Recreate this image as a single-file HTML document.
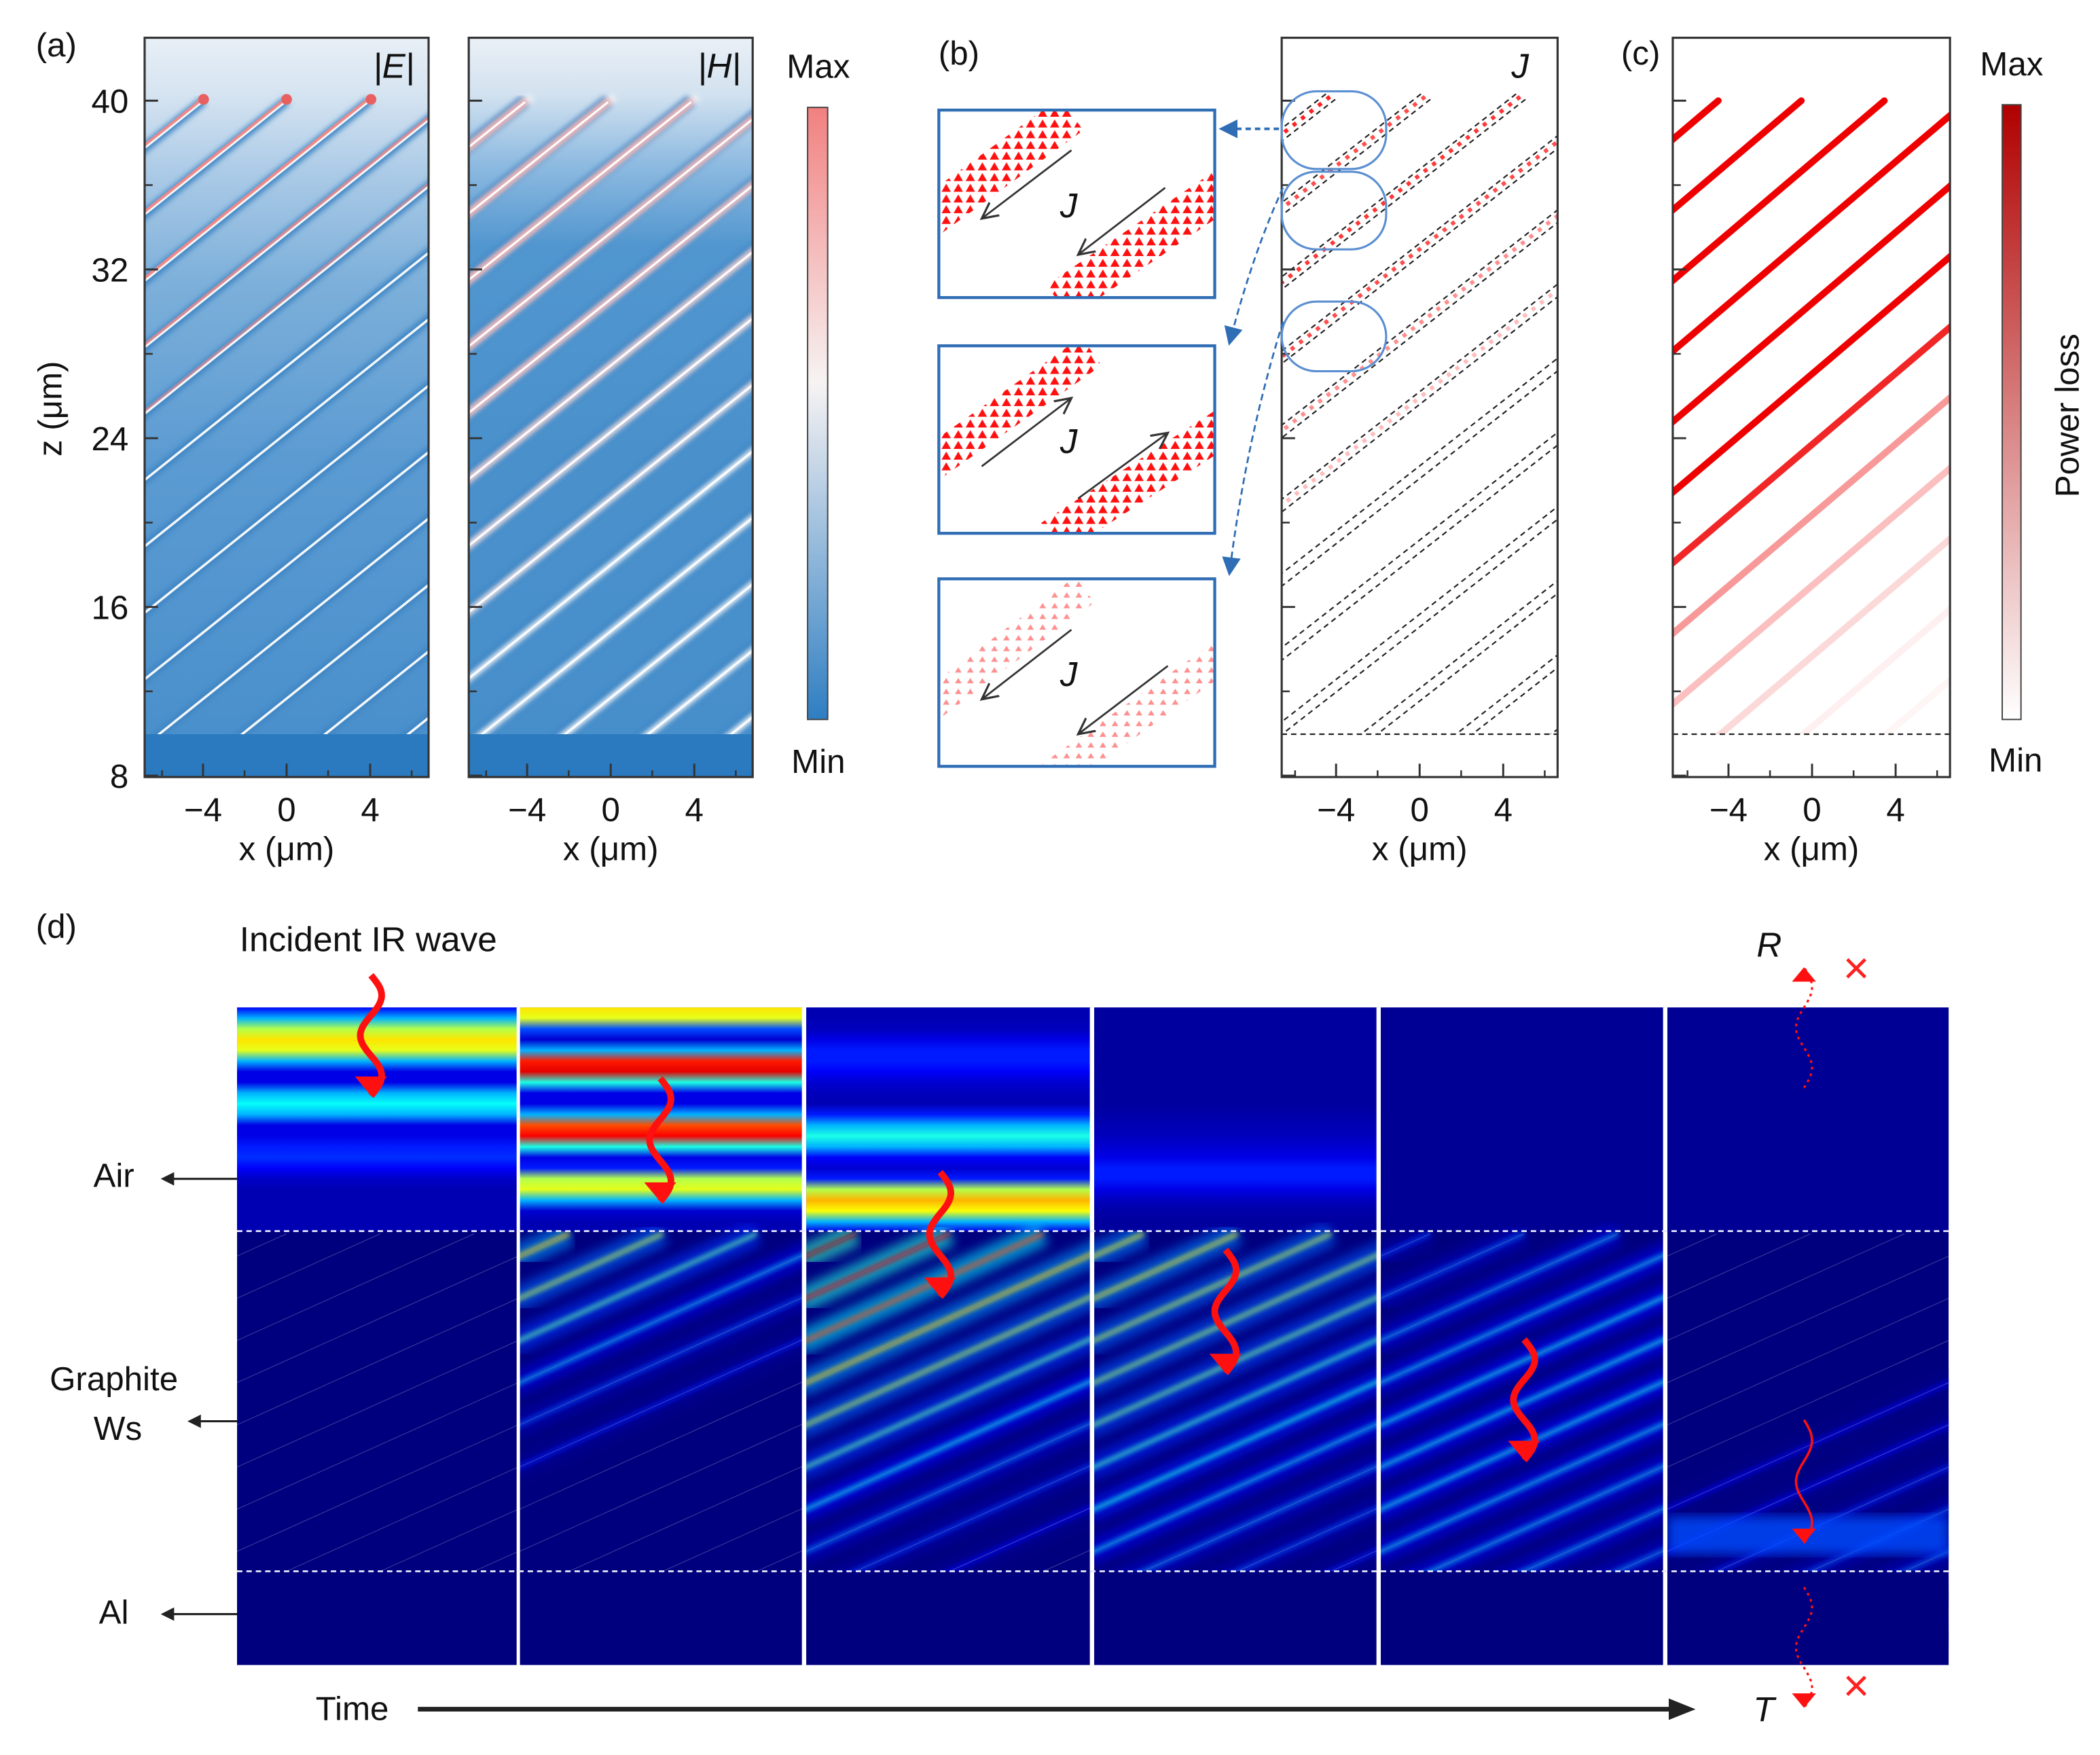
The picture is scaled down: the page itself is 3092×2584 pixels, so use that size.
<!DOCTYPE html>
<html><head><meta charset="utf-8"><style>
html,body{margin:0;padding:0;background:#fff;width:3092px;height:2584px;overflow:hidden;position:relative;}
svg{display:block;position:absolute;left:0;top:0;}
script{display:none;}
text{font-family:"Liberation Sans",sans-serif;}
</style></head><body>
<svg id="fig" xmlns="http://www.w3.org/2000/svg" width="3092" height="2584" viewBox="0 0 1568 1310">
<defs>
<linearGradient id="gE" x1="0" y1="0" x2="0" y2="1">
<stop offset="0" stop-color="#e8eff6"/><stop offset="0.08" stop-color="#d6e4f1"/><stop offset="0.2" stop-color="#a9c9e6"/><stop offset="0.35" stop-color="#7db0da"/><stop offset="0.6" stop-color="#5c9bd2"/><stop offset="1" stop-color="#4a90cc"/></linearGradient>
<linearGradient id="gH" x1="0" y1="0" x2="0" y2="1">
<stop offset="0" stop-color="#eaf0f6"/><stop offset="0.08" stop-color="#d3e2f0"/><stop offset="0.18" stop-color="#8fbbe1"/><stop offset="0.3" stop-color="#5196cf"/><stop offset="0.6" stop-color="#4a91cc"/><stop offset="1" stop-color="#478fcb"/></linearGradient>
<linearGradient id="cbA" x1="0" y1="0" x2="0" y2="1"><stop offset="0" stop-color="#f28080"/><stop offset="0.45" stop-color="#f7f3f3"/><stop offset="1" stop-color="#2e7ec2"/></linearGradient>
<linearGradient id="cbC" x1="0" y1="0" x2="0" y2="1"><stop offset="0" stop-color="#b00000"/><stop offset="1" stop-color="#ffffff"/></linearGradient>
<clipPath id="clipE"><rect x="108" y="28" width="212" height="520"/></clipPath>
<clipPath id="clipH"><rect x="350" y="28" width="212" height="520"/></clipPath>
<clipPath id="clipB"><rect x="957" y="28" width="206" height="520"/></clipPath>
<clipPath id="clipC"><rect x="1249" y="28" width="207" height="520"/></clipPath>
<filter id="blur2"><feGaussianBlur stdDeviation="2"/></filter>
<filter id="blur4"><feGaussianBlur stdDeviation="4"/></filter>
<pattern id="tri" width="9" height="8" patternUnits="userSpaceOnUse"><polygon points="1,7 4.5,1 8,7" fill="#ff1010"/></pattern>
<pattern id="triL" width="9" height="8" patternUnits="userSpaceOnUse"><polygon points="2,6 4.5,2 7,6" fill="#ff9090"/></pattern>
<marker id="ahBlack" markerWidth="10" markerHeight="10" refX="8" refY="5" orient="auto" markerUnits="userSpaceOnUse"><path d="M0,0 L10,5 L0,10 z" fill="#222"/></marker>
<marker id="ahOpen" markerWidth="14" markerHeight="14" refX="12" refY="7" orient="auto" markerUnits="userSpaceOnUse"><path d="M0,1 L12,7 L0,13" fill="none" stroke="#333" stroke-width="1.6"/></marker>
<marker id="ahBlue" markerWidth="14" markerHeight="14" refX="12" refY="7" orient="auto" markerUnits="userSpaceOnUse"><path d="M0,0 L14,7 L0,14 z" fill="#2f6db5"/></marker>
</defs>
<g id="root"></g>
</svg>
<script>
// ---------- data ----------
var zTicks = [40, 32, 24, 16, 8];
var xTicks = [-4, 0, 4];
var lossIntensity = [1, 1, 1, 1, 1, 1, 0.85, 0.4, 0.25, 0.15, 0.06, 0.04, 0.02, 0.01, 0, 0];
var airY = [752,760,768,776,784,792,800,808,816,824,832,840,848,856,864,872,880,888,896,904,912,919];
var air1 = [0.12,0.3,0.55,0.65,0.6,0.3,0.1,0.1,0.3,0.38,0.3,0.1,0.1,0.15,0.17,0.12,0.07,0.05,0.05,0.05,0.05,0.05];
var air2 = [0.65,0.6,0.2,0.08,0.3,0.85,0.9,0.4,0.1,0.1,0.3,0.8,0.88,0.4,0.1,0.15,0.55,0.6,0.3,0.08,0.05,0.05];
var air3 = [0.05,0.05,0.06,0.1,0.15,0.15,0.12,0.08,0.06,0.05,0.15,0.3,0.4,0.3,0.12,0.08,0.15,0.55,0.7,0.62,0.3,0.1];
var air4 = [0.03,0.03,0.03,0.03,0.03,0.03,0.03,0.03,0.03,0.03,0.04,0.05,0.06,0.08,0.1,0.15,0.15,0.1,0.06,0.04,0.03,0.03];
var air5 = [0.02,0.02,0.02,0.02,0.02,0.02,0.02,0.02,0.02,0.02,0.02,0.02,0.02,0.02,0.02,0.02,0.02,0.02,0.02,0.02,0.02,0.02];
var air6 = [0.02,0.02,0.02,0.02,0.02,0.02,0.02,0.02,0.02,0.02,0.02,0.02,0.02,0.02,0.02,0.02,0.02,0.02,0.02,0.02,0.02,0.02];
var glow1 = [0,0,0,0,0,0,0,0,0,0,0,0,0,0,0,0];
var glow2 = [0.55,0.45,0.35,0.2,0.1,0.05,0,0,0,0,0,0,0,0,0,0];
var glow3 = [0.85,0.8,0.7,0.55,0.45,0.35,0.25,0.15,0.08,0.04,0,0,0,0,0,0];
var glow4 = [0.5,0.5,0.45,0.42,0.38,0.32,0.28,0.22,0.15,0.1,0.05,0,0,0,0,0];
var glow5 = [0.08,0.12,0.18,0.22,0.25,0.25,0.25,0.22,0.2,0.18,0.15,0.1,0.06,0.03,0,0];
var glow6 = [0,0,0,0,0,0,0.02,0.04,0.06,0.1,0.12,0.15,0.18,0.18,0.15,0.12];
var airProfiles = [air1, air2, air3, air4, air5, air6];
var glowProfiles = [glow1, glow2, glow3, glow4, glow5, glow6];

// ---------- helpers ----------
var NS = "http://www.w3.org/2000/svg";
var root = document.getElementById('root');
function mk(tag, attrs, parent){ var e=document.createElementNS(NS,tag); for(var k in attrs) e.setAttribute(k, attrs[k]); (parent||root).appendChild(e); return e; }
function txt(x,y,s,size,anchor,extra,parent){ var t=mk('text',Object.assign({x:x,y:y,'font-size':size,'text-anchor':anchor||'middle',fill:'#111'},extra||{}),parent); t.textContent=s; return t; }
function clamp(v){return Math.max(0,Math.min(1,v));}
function jet(v){ var r=clamp(1.5-Math.abs(4*v-3)), g=clamp(1.5-Math.abs(4*v-2)), b=clamp(1.5-Math.abs(4*v-1)); return 'rgb('+Math.round(r*255)+','+Math.round(g*255)+','+Math.round(b*255)+')'; }
function zY(z){ return 75 + (40 - z) * 15.75; }

function stripeLines(parent, xTop, yTop, slope, period, count, xLeft, attrs, nameBase, valueArr){
  for (var k=0;k<count;k++){
    var xa = xTop + k*period;
    var x2 = xLeft - 5, y2 = yTop + slope*(xa - x2);
    var ln = mk('line', Object.assign({x1:xa,y1:yTop,x2:x2,y2:y2}, attrs), parent);
    
    
    if (valueArr) ln.setAttribute('stroke-opacity', valueArr[k]===undefined?0:valueArr[k]);
  }
}

function topAxes(name, x0, x1, xZero, showZLabels){
  var g = mk('g',{});
  
  
  mk('rect',{x:x0,y:28,width:x1-x0,height:552,fill:'none',stroke:'#333','stroke-width':1.6},g);
  zTicks.forEach(function(z){
    var y=zY(z);
    var t=mk('line',{x1:x0,y1:y,x2:x0+10,y2:y,stroke:'#333','stroke-width':1.5},g);
    
    
    if (z>8) mk('line',{x1:x0,y1:y+63,x2:x0+6,y2:y+63,stroke:'#333','stroke-width':1.3},g);
    if(showZLabels){ var l=txt(x0-12,y+9,String(z),25,'end',{},g);
      
       }
  });
  xTicks.forEach(function(x){
    var xx = xZero + x*15.6;
    mk('line',{x1:xx,y1:580,x2:xx,y2:570,stroke:'#333','stroke-width':1.5},g);
    mk('line',{x1:xx+31,y1:580,x2:xx+31,y2:575,stroke:'#333','stroke-width':1.3},g);
    var l=txt(xx,613,String(x).replace('-','\u2212'),25,'middle',{},g);
    
    
  });
  mk('line',{x1:xZero-93,y1:580,x2:xZero-93,y2:575,stroke:'#333','stroke-width':1.3},g);
  var xl=txt((x0+x1)/2,642,'x (\u03bcm)',25,'middle',{},g);
  
  
}

// ---------- panel (a) ----------
txt(42,42,'(a)',25,'middle');
var gE = mk('g',{'clip-path':'url(#clipE)'});


mk('rect',{x:108,y:28,width:212,height:520,fill:'url(#gE)'},gE);
stripeLines(gE, 152, 75, 0.8, 62, 14, 108, {stroke:'#3f86c4','stroke-width':7,filter:'url(#blur2)'}, 'e-stripe-shadow');
stripeLines(gE, 152, 75, 0.8, 62, 14, 108, {stroke:'#f4f8fb','stroke-width':1.8}, 'e-stripe');
stripeLines(gE, 152, 73, 0.8, 62, 5, 108, {stroke:'#f08888','stroke-width':2}, 'e-stripe-red', [1,1,1,0.8,0.6]);
[152,214,277].forEach(function(x){ var c=mk('circle',{cx:x,cy:74,r:4,fill:'#e86060'},gE);   });
mk('rect',{x:108,y:548,width:212,height:32,fill:'#2b79be'});
topAxes('e-panel',108,320,214,true);
var tE2=txt(294,58,'|E|',26,'middle',{'font-style':'italic'});


var zl=txt(46,305,'z (\u03bcm)',25,'middle',{transform:'rotate(-90 46 305)'});



var gH = mk('g',{'clip-path':'url(#clipH)'});


mk('rect',{x:350,y:28,width:212,height:520,fill:'url(#gH)'},gH);
stripeLines(gH, 392, 75, 0.8, 62, 14, 350, {stroke:'#2f7bc0','stroke-width':9,filter:'url(#blur2)'}, 'h-stripe-shadow');
stripeLines(gH, 397, 72, 0.8, 62, 14, 350, {stroke:'#f1f4f7','stroke-width':5,filter:'url(#blur2)'}, 'h-stripe-glow');
stripeLines(gH, 393, 75, 0.8, 62, 8, 350, {stroke:'#f0a0a0','stroke-width':5,filter:'url(#blur2)'}, 'h-stripe-red', [1,1,1,0.9,0.8,0.5,0.3,0.2]);
stripeLines(gH, 392, 76, 0.8, 62, 14, 350, {stroke:'#fbfdff','stroke-width':1.6}, 'h-stripe');
mk('rect',{x:350,y:548,width:212,height:32,fill:'#2b79be'});
topAxes('h-panel',350,562,456,false);
var tH=txt(537,58,'|H|',26,'middle',{'font-style':'italic'});



var cbA=mk('rect',{x:603,y:80,width:15,height:457,fill:'url(#cbA)',stroke:'#444','stroke-width':1});


txt(611,58,'Max',25); txt(611,577,'Min',25);

// ---------- panel (b) ----------
txt(716,48,'(b)',25,'middle');
var gB = mk('g',{'clip-path':'url(#clipB)'});


stripeLines(gB, 990, 70, 0.78, 71, 12, 957, {stroke:'#222','stroke-width':1.1,'stroke-dasharray':'4 3'}, 'j-stripe-upper');
stripeLines(gB, 997, 74, 0.78, 71, 12, 957, {stroke:'#222','stroke-width':1.1,'stroke-dasharray':'4 3'}, 'j-stripe-lower');
stripeLines(gB, 993, 72, 0.78, 71, 6, 957, {stroke:'#ff2020','stroke-width':3,'stroke-dasharray':'3 5'}, 'j-current-dots', [1,0.8,0.9,0.8,0.5,0.3]);
mk('line',{x1:957,y1:548,x2:1163,y2:548,stroke:'#222','stroke-dasharray':'4 3','stroke-width':1.1});
topAxes('j-panel',957,1163,1060,false);
txt(1135,58,'J',26,'middle',{'font-style':'italic'});
[[957,68,78,58],[957,128,78,58],[957,225,78,52]].forEach(function(r){ var e=mk('rect',{x:r[0],y:r[1],width:r[2],height:r[3],rx:26,fill:'none',stroke:'#5b8fd1','stroke-width':1.6});   });
mk('line',{x1:955,y1:96,x2:912,y2:96,stroke:'#2f6db5','stroke-width':2,'stroke-dasharray':'4 3','marker-end':'url(#ahBlue)'});
mk('path',{d:'M958,140 Q935,190 918,256',fill:'none',stroke:'#2f6db5','stroke-width':1.4,'stroke-dasharray':'5 3','marker-end':'url(#ahBlue)'});
mk('path',{d:'M958,240 Q930,330 918,428',fill:'none',stroke:'#2f6db5','stroke-width':1.4,'stroke-dasharray':'5 3','marker-end':'url(#ahBlue)'});
function inset(y0, bands, fill, arrows, name){
  var g=mk('g',{});
  
  
  var cp=mk('clipPath',{id:'cp'+y0},g); mk('rect',{x:701,y:y0,width:206,height:140},cp);
  var inner=mk('g',{'clip-path':'url(#cp'+y0+')'},g);
  mk('rect',{x:701,y:y0,width:206,height:140,fill:'#fff'},inner);
  bands.forEach(function(b){ mk('line',{x1:b[0],y1:b[1],x2:b[2],y2:b[3],stroke:fill,'stroke-width':b[4]},inner); });
  arrows.forEach(function(a){ mk('line',{x1:a[0],y1:a[1],x2:a[2],y2:a[3],stroke:'#333','stroke-width':1.4,'marker-end':'url(#ahOpen)'},g); });
  mk('rect',{x:701,y:y0,width:206,height:140,fill:'none',stroke:'#2f6db5','stroke-width':2.2},g);
  txt(798,y0+80,'J',26,'middle',{'font-style':'italic'},g);
}
inset(82,[[690,165,800,85,30],[790,225,915,140,30]],'url(#tri)',[[800,112,733,163],[870,140,805,190]],'inset-top');
inset(258,[[690,350,815,262,26],[785,402,915,318,28]],'url(#tri)',[[733,348,800,297],[805,372,872,323]],'inset-middle');
inset(432,[[690,530,810,440,24],[785,580,915,488,24]],'url(#triL)',[[800,470,733,522],[872,497,805,548]],'inset-bottom');

// ---------- panel (c) ----------
txt(1225,48,'(c)',25,'middle');
var gC = mk('g',{'clip-path':'url(#clipC)'});


for (var k=0;k<lossIntensity.length;k++){
  var xa = 1283 + k*62, yTop = 75, x2 = 1244, y2 = yTop + 0.85*(xa - x2);
  var ln = mk('line',{x1:xa,y1:yTop,x2:x2,y2:y2,stroke:'#ee0000','stroke-width':5,'stroke-linecap':'round','stroke-opacity':lossIntensity[k]},gC);
  
  
}
mk('line',{x1:1249,y1:548,x2:1456,y2:548,stroke:'#222','stroke-dasharray':'4 3','stroke-width':1.1});
topAxes('loss-panel',1249,1456,1353,false);
var cbC=mk('rect',{x:1495,y:78,width:14,height:459,fill:'url(#cbC)',stroke:'#444','stroke-width':1});


txt(1502,56,'Max',25); txt(1505,576,'Min',25);
txt(1552,310,'Power loss',25,'middle',{transform:'rotate(-90 1552 310)'});

// ---------- panel (d) ----------
txt(42,700,'(d)',25,'middle');
txt(275,710,'Incident IR wave',26,'middle');
var dLeft=[177,388,602,817,1031,1245], dW=[210,212,213,212,212,210];
for (var p=0;p<6;p++){
  var x0=dLeft[p], w=dW[p];
  var g=mk('g',{});
  
  
  var cp=mk('clipPath',{id:'cd'+p},g); mk('rect',{x:x0,y:752,width:w,height:491},cp);
  var inner=mk('g',{'clip-path':'url(#cd'+p+')'},g);
  var gr=mk('linearGradient',{id:'ag'+p,x1:0,y1:0,x2:0,y2:1},g);
  airProfiles[p].forEach(function(v,i){ mk('stop',{offset:((airY[i]-752)/167).toFixed(3),'stop-color':jet(v)},gr); });
  mk('rect',{x:x0,y:752,width:w,height:491,fill:'#00007f'},inner);
  var air=mk('rect',{x:x0,y:752,width:w,height:167,fill:'url(#ag'+p+')'},inner);
  
  
  var gl=glowProfiles[p];
  for (var k=0;k<gl.length;k++){
    var xa=x0+37+70*k, x2=x0-5, y2=921+0.45*(xa-x2);
    if (gl[k]>0){
      var haze=mk('line',{x1:xa,y1:921,x2:x2,y2:y2,stroke:jet(gl[k]*0.5),'stroke-width':18,filter:'url(#blur4)',opacity:0.6},inner);
      
      
      var core=mk('line',{x1:xa,y1:921,x2:x2,y2:y2,stroke:jet(Math.min(1,gl[k]+0.1)),'stroke-width':2.5,filter:'url(#blur2)'},inner);
      
      
    }
    mk('line',{x1:xa,y1:921,x2:x2,y2:y2,stroke:'#6670b0','stroke-width':0.6,'stroke-opacity':0.5},inner);
  }
  if (p===5){ var band=mk('rect',{x:x0,y:1132,width:w,height:28,fill:jet(0.2),filter:'url(#blur4)',opacity:0.8},inner);
    
     }
  mk('rect',{x:x0,y:1173,width:w,height:70,fill:'#00007f'},inner);
}
[387,600,815,1029,1243].forEach(function(x){ mk('line',{x1:x,y1:752,x2:x,y2:1243,stroke:'#fff','stroke-width':2.5}); });
mk('line',{x1:177,y1:919,x2:1455,y2:919,stroke:'#e8e8f8','stroke-width':1.4,'stroke-dasharray':'4 3'});
mk('line',{x1:177,y1:1173,x2:1455,y2:1173,stroke:'#e8e8f8','stroke-width':1.4,'stroke-dasharray':'4 3'});

function wave(xs, ys, ye, amp, sw, dotted, up, name){
  var d='', n=40; for (var i=0;i<=n;i++){ var t=i/n, y=ys+(ye-ys)*t, x=xs+amp*Math.sin(t*Math.PI*3); d+=(i?'L':'M')+x.toFixed(1)+','+y.toFixed(1); }
  var pth=mk('path',{d:d,fill:'none',stroke:'#ff1010','stroke-width':sw,'stroke-dasharray':dotted?'2 3':'none'});
  
  
  var hs = sw>3?12:9, hx=xs;
  if(up) mk('polygon',{points:(hx-hs)+','+(ye+hs*1.2)+' '+(hx+hs)+','+(ye+hs*1.2)+' '+hx+','+ye,fill:'#ff1010'});
  else mk('polygon',{points:(hx-hs)+','+(ye-hs*1.2)+' '+(hx+hs)+','+(ye-hs*1.2)+' '+hx+','+ye,fill:'#ff1010'});
}
wave(277,728,818,8,5,false,false,'incident-wave-arrow-1');
wave(493,805,897,8,5,false,false,'wave-arrow-2');
wave(702,875,968,8,5,false,false,'wave-arrow-3');
wave(915,933,1025,8,5,false,false,'wave-arrow-4');
wave(1138,1000,1090,8,5,false,false,'wave-arrow-5');
wave(1347,1060,1152,6,1.8,false,false,'wave-arrow-6');
wave(1347,812,722,6,1.6,true,true,'reflected-wave-arrow');
wave(1347,1185,1275,6,1.6,true,false,'transmitted-wave-arrow');
txt(1321,714,'R',26,'middle',{'font-style':'italic'});
txt(1317,1285,'T',26,'middle',{'font-style':'italic'});
txt(1386,734,'\u00d7',34,'middle',{fill:'#ff2020'});
txt(1386,1270,'\u00d7',34,'middle',{fill:'#ff2020'});

txt(85,886,'Air',25,'middle');
mk('line',{x1:177,y1:880,x2:122,y2:880,stroke:'#222','stroke-width':1.6,'marker-end':'url(#ahBlack)'});
txt(85,1038,'Graphite',25,'middle'); txt(88,1075,'Ws',25,'middle');
mk('line',{x1:177,y1:1061,x2:142,y2:1061,stroke:'#222','stroke-width':1.6,'marker-end':'url(#ahBlack)'});
txt(85,1212,'Al',25,'middle');
mk('line',{x1:177,y1:1205,x2:122,y2:1205,stroke:'#222','stroke-width':1.6,'marker-end':'url(#ahBlack)'});
txt(263,1284,'Time',25,'middle');
var ta=mk('line',{x1:312,y1:1276,x2:1250,y2:1276,stroke:'#222','stroke-width':3.5});


mk('polygon',{points:'1246,1268 1266,1276 1246,1284',fill:'#222'});
</script>
</body></html>
